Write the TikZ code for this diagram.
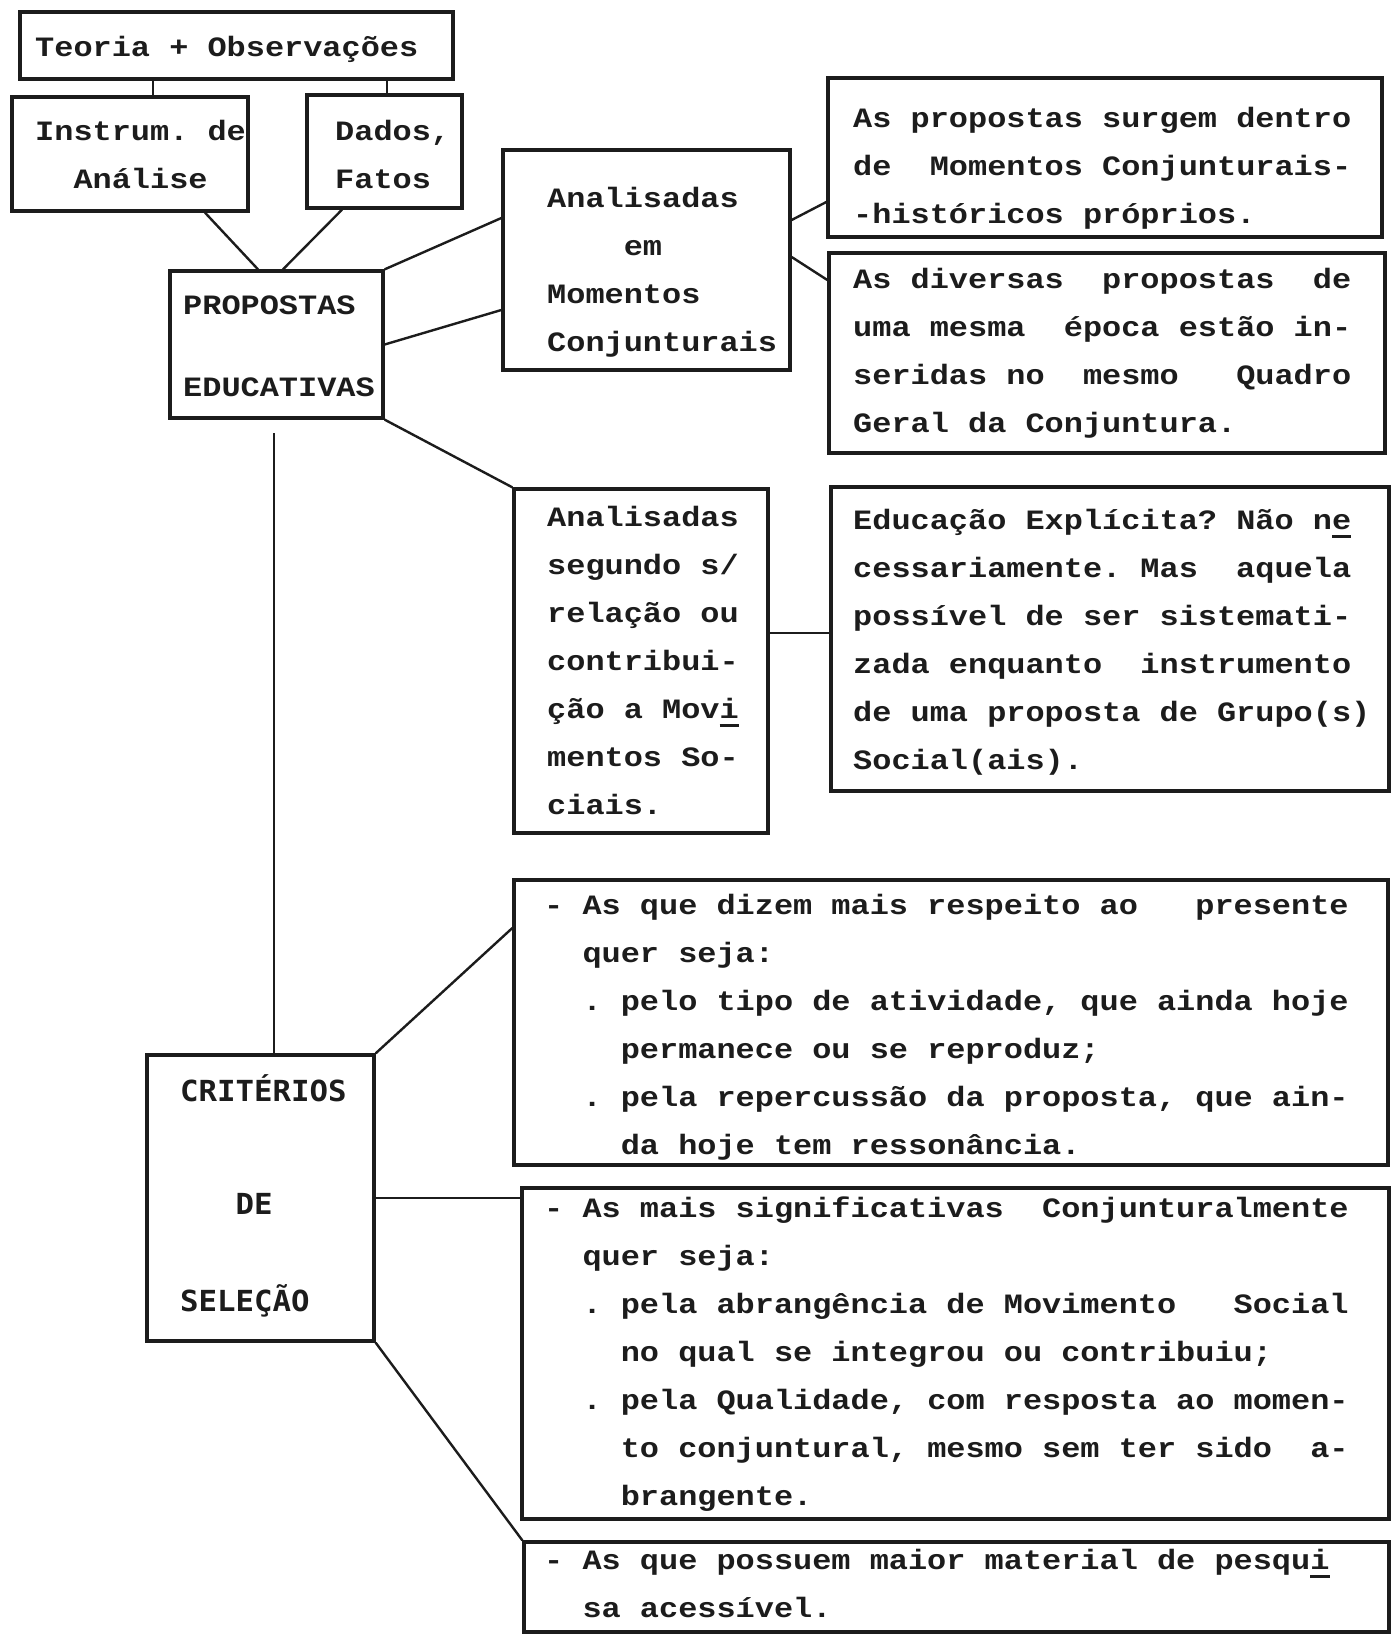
\documentclass[tikz,border=0pt]{standalone}
\usepackage{fontspec}
\usetikzlibrary{fit,calc}
\newfontfamily\tw{Liberation Mono}[FakeStretch=1.14]
\newfontfamily\gothic{DejaVu Sans Mono}[FakeStretch=1.06]
\definecolor{ink}{HTML}{1C1C1C}
\newcommand\st{\strut}
\newcommand\ubar[1]{\leavevmode\rlap{\rule[-9pt]{19.15pt}{3pt}}#1}
\frenchspacing
\tikzset{
  box/.style={draw=ink, line width=3.3pt, inner sep=0pt},
  conn/.style={draw=ink, line width=2.4pt},
  txt/.style={font=\tw\bfseries\fontsize{28}{48}\selectfont\frenchspacing, align=left, inner sep=0pt, anchor=west, text=ink},
  gtxt/.style={font=\gothic\bfseries\fontsize{29}{48}\selectfont\frenchspacing, align=left, inner sep=0pt, anchor=west, text=ink}
}
\begin{document}
\begin{tikzpicture}[x=1pt,y=-1pt]
\fill[white] (0,0) rectangle (1393,1641);
\useasboundingbox (0,0) rectangle (1393,1641);

% boxes
\node[box, fit={(20,12) (453,79)}] (teo) {};
\node[box, fit={(12,97) (248,211)}] (ins) {};
\node[box, fit={(307,95) (462,208)}] (dad) {};
\node[box, fit={(170,271) (383,418)}] (pro) {};
\node[box, fit={(503,150) (790,370)}] (ame) {};
\node[box, fit={(828,78) (1382,237)}] (sur) {};
\node[box, fit={(829,253) (1385,453)}] (div) {};
\node[box, fit={(514,489) (768,833)}] (seg) {};
\node[box, fit={(831,487) (1389,791)}] (edu) {};
\node[box, fit={(147,1055) (374,1341)}] (cri) {};
\node[box, fit={(514,880) (1388,1165)}] (diz) {};
\node[box, fit={(522,1188) (1389,1519)}] (sig) {};
\node[box, fit={(524,1542) (1389,1632)}] (pos) {};

% texts
\node[txt] (teoT) at (35,47) {\st Teoria + Observações};
\node[txt] (insT) at (35,154.5) {\st Instrum. de\\\st~~Análise};
\node[txt] (dadT) at (335,154.5) {\st Dados,\\\st Fatos};
\node[txt] (proT1) at (183,305) {\st PROPOSTAS};
\node[txt] (proT2) at (183,387) {\st EDUCATIVAS};
\node[txt] (ameT) at (547,269.5) {\st Analisadas\\\st~~~~em\\\st Momentos\\\st Conjunturais};
\node[txt] (surT) at (853,165.5) {\st As propostas surgem dentro\\\st de~~Momentos Conjunturais-\\\st -históricos próprios.};
\node[txt] (divT) at (853,350.5) {\st As diversas~~propostas~~de\\\st uma mesma~~época estão in-\\\st seridas no~~mesmo~~~Quadro\\\st Geral da Conjuntura.};
\node[txt] (segT) at (547,660.5) {\st Analisadas\\\st segundo s/\\\st relação ou\\\st contribui-\\\st ção a Mov\ubar{i}\\\st mentos So-\\\st ciais.};
\node[txt] (eduT) at (853,639.5) {\st Educação Explícita? Não n\ubar{e}\\\st cessariamente. Mas~~aquela\\\st possível de ser sistemati-\\\st zada enquanto~~instrumento\\\st de uma proposta de Grupo(s)\\\st Social(ais).};
\node[gtxt] (criT1) at (180,1092) {\st CRITÉRIOS};
\node[gtxt] (criT2) at (180,1205) {\st~~~DE};
\node[gtxt] (criT3) at (180,1302) {\st SELEÇÃO};
\node[txt] (dizT) at (544,1025) {\st - As que dizem mais respeito ao~~~presente\\\st~~quer seja:\\\st~~. pelo tipo de atividade, que ainda hoje\\\st~~~~permanece ou se reproduz;\\\st~~. pela repercussão da proposta, que ain-\\\st~~~~da hoje tem ressonância.};
\node[txt] (sigT) at (544,1352) {\st - As mais significativas~~Conjunturalmente\\\st~~quer seja:\\\st~~. pela abrangência de Movimento~~~Social\\\st~~~~no qual se integrou ou contribuiu;\\\st~~. pela Qualidade, com resposta ao momen-\\\st~~~~to conjuntural, mesmo sem ter sido~~a-\\\st~~~~brangente.};
\node[txt] (posT) at (544,1583.5) {\st - As que possuem maior material de pesqu\ubar{i}\\\st~~sa acessível.};

% connectors
\draw[conn] ([xshift=23pt]ins.north) -- ([xshift=23pt]ins.north |- teo.south);
\draw[conn] ([xshift=2.5pt]dad.north) -- ([xshift=2.5pt]dad.north |- teo.south);
\draw[conn] ([xshift=75pt]ins.south) -- ([xshift=-18.5pt]pro.north);
\draw[conn] ([xshift=-42.5pt]dad.south) -- ([xshift=6.5pt]pro.north);
\draw[conn] (pro.north east) -- ([yshift=42pt]ame.west);
\draw[conn] (pro.east) -- ([yshift=-50pt]ame.west);
\draw[conn] ([yshift=40pt]ame.east) -- ([yshift=-44.5pt]sur.west);
\draw[conn] ([yshift=3pt]ame.east) -- ([yshift=73pt]div.west);
\draw[conn] (pro.south east) -- (seg.north west);
\draw[conn] ([yshift=28pt]seg.east) -- ([yshift=28pt]seg.east -| edu.west);
\draw[conn, shorten >=13pt] ([xshift=13.5pt]cri.north) -- ([xshift=13.5pt]cri.north |- pro.south);
\draw[conn] (cri.north east) -- ([yshift=94.5pt]diz.west);
\draw[conn] (cri.east) -- (cri.east -| sig.west);
\draw[conn] (cri.south east) -- (pos.north west);
\end{tikzpicture}
\end{document}
